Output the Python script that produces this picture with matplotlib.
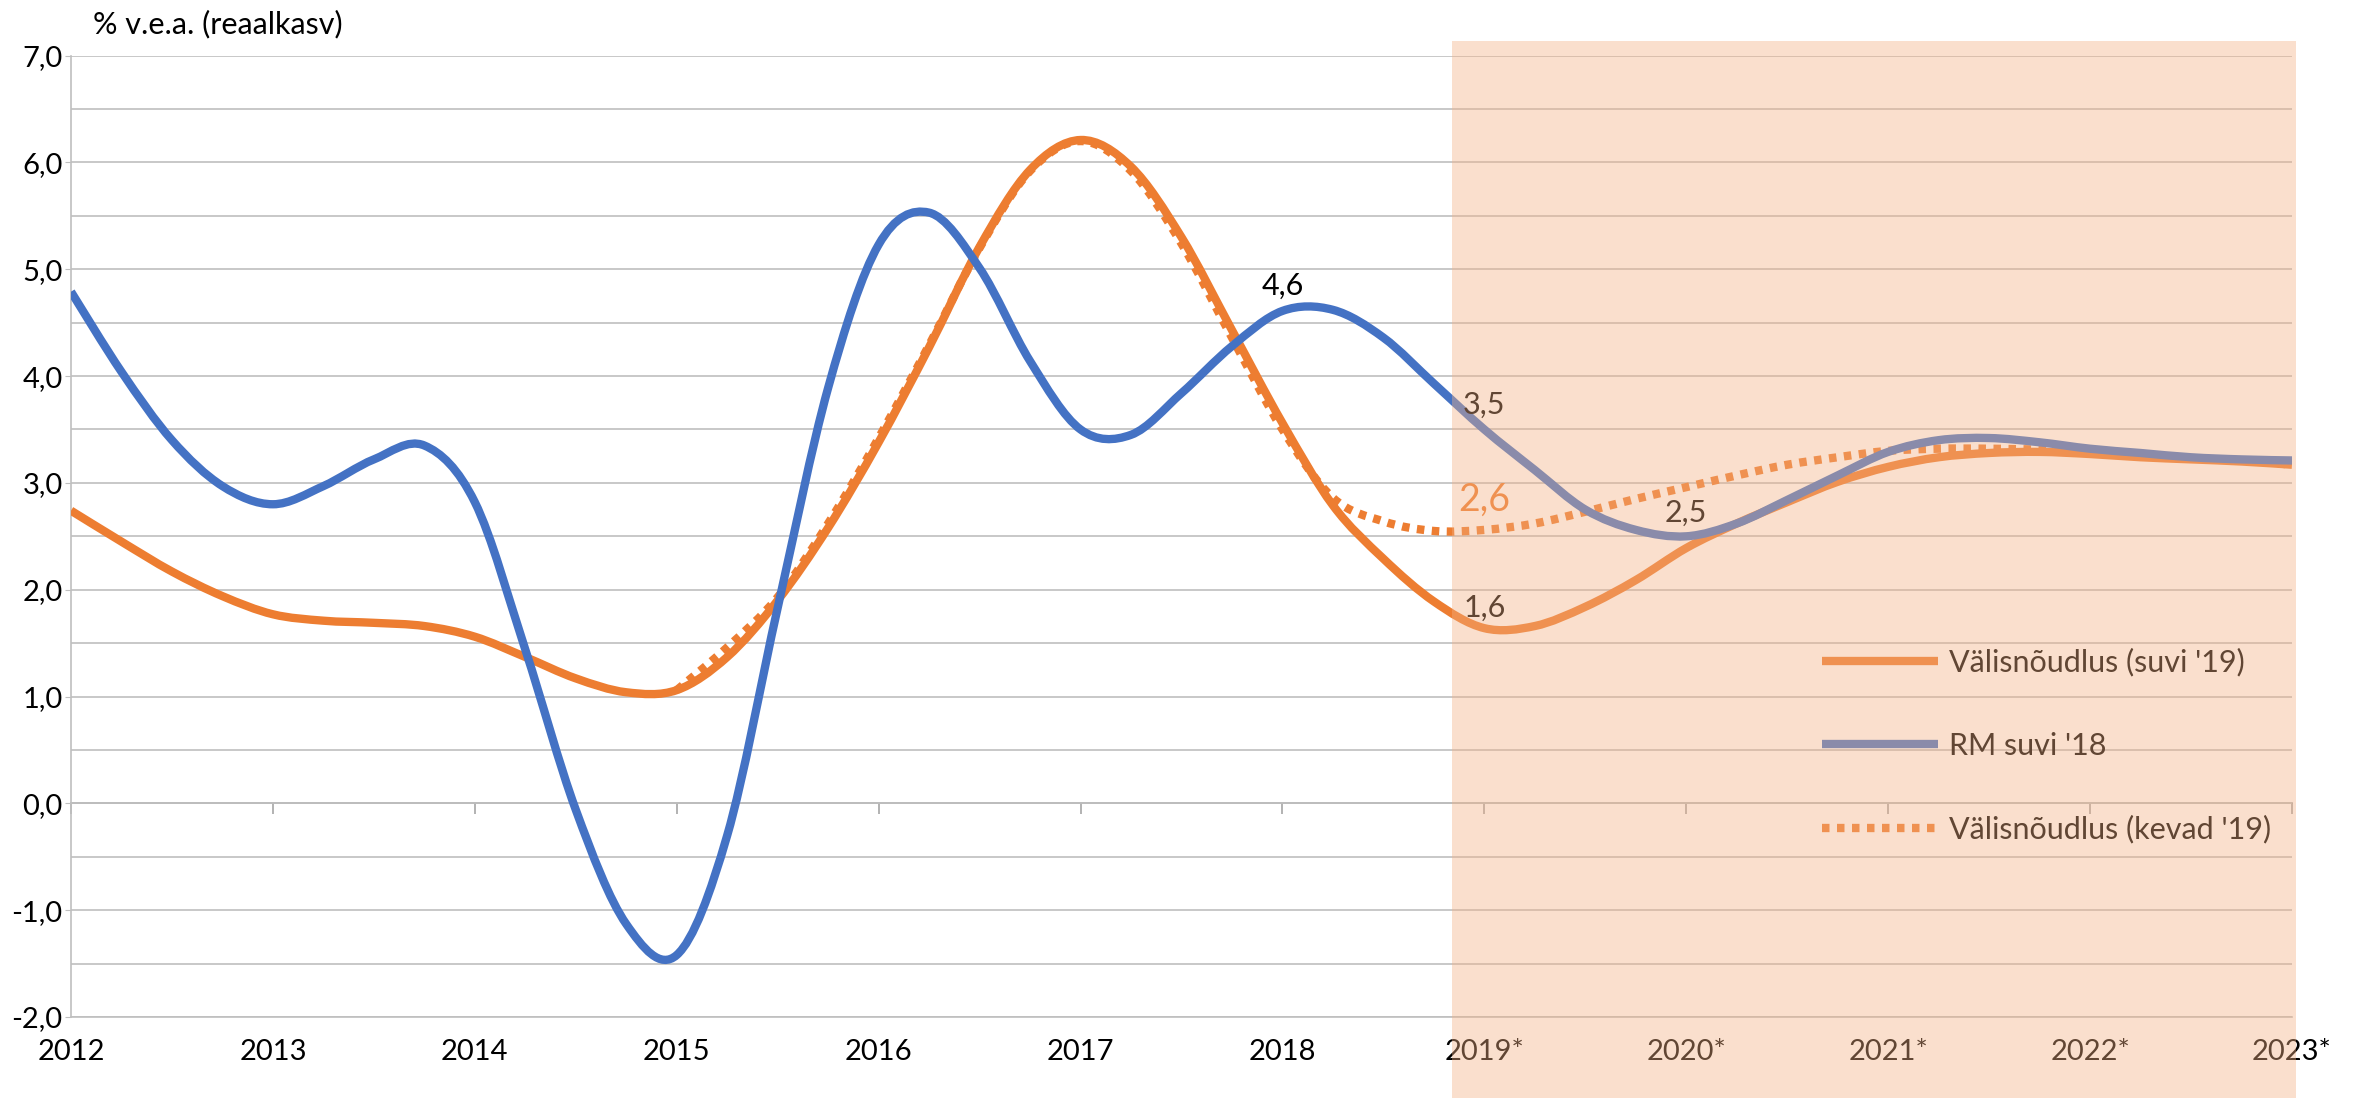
"""Estonian external demand growth chart, summer '19 vs spring '19 vs RM summer '18."""

# --------------------------------------------------
# import necessary modules
# --------------------------------------------------
import matplotlib

matplotlib.use("Agg")
import matplotlib.pyplot as plt
import numpy as np
from matplotlib.lines import Line2D
from matplotlib.patches import PathPatch, Rectangle
from matplotlib.path import Path

plt.rcParams.update({
    "font.family": ["Lato", "DejaVu Sans"],
    "font.size": 21,
})

# --------------------------------------------------
# data (quarterly points)
# --------------------------------------------------
quarters = np.arange(2012.0, 2023.01, 0.25)

rm_suvi_18 = [
    4.79, 4.04, 3.40, 2.97, 2.80, 2.97, 3.22, 3.35,
    2.82, 1.44, -0.06, -1.13, -1.42, -0.30, 1.83, 3.89,
    5.23, 5.53, 5.01, 4.14, 3.50, 3.45, 3.84, 4.28,
    4.61, 4.62, 4.36, 3.93, 3.50, 3.12, 2.75, 2.56,
    2.50, 2.62, 2.84, 3.07, 3.29, 3.40, 3.42, 3.38,
    3.32, 3.28, 3.24, 3.22, 3.21,
]

valisnoudlus_suvi_19 = [
    2.74, 2.45, 2.17, 1.94, 1.77, 1.71, 1.69, 1.66,
    1.56, 1.37, 1.17, 1.04, 1.06, 1.37, 1.90, 2.58,
    3.38, 4.27, 5.21, 5.93, 6.21, 5.96, 5.30, 4.43,
    3.56, 2.79, 2.29, 1.89, 1.64, 1.66, 1.84, 2.09,
    2.39, 2.62, 2.82, 3.01, 3.15, 3.24, 3.28, 3.29,
    3.27, 3.24, 3.22, 3.20, 3.17,
]

# spring forecast only starts in 2015
kevad_start = 12
valisnoudlus_kevad_19 = [
    1.06, 1.46, 1.93, 2.62, 3.42, 4.29, 5.20, 5.92,
    6.20, 5.92, 5.24, 4.36, 3.50, 2.86, 2.64, 2.55,
    2.56, 2.62, 2.73, 2.85, 2.96, 3.07, 3.17, 3.24,
    3.30, 3.32, 3.32, 3.31, 3.28, 3.25, 3.23, 3.21,
    3.17,
]

years = list(range(2012, 2024))
year_labels = ["2012", "2013", "2014", "2015", "2016", "2017", "2018",
               "2019*", "2020*", "2021*", "2022*", "2023*"]
y_ticks = list(range(-2, 8))
y_ticklabels = [f"{v:.1f}".replace(".", ",") for v in y_ticks]

series_names = ["Välisnõudlus (suvi '19)", "RM suvi '18", "Välisnõudlus (kevad '19)"]

# data labels: (series, year, offset in points, colour, size)
point_labels = [
    ("rm", 2018, 18, "black", 22),
    ("rm", 2019, 18, "black", 22),
    ("rm", 2020, 17, "black", 22),
    ("suvi", 2019, 15, "black", 22),
    ("kevad", 2019, 22, "#ED7D31", 27),
]

BLUE = "#4472C4"
ORANGE = "#ED7D31"
GRID = "#BFBFBF"


# --------------------------------------------------
# smoothed line like the spreadsheet "smooth line" option
# --------------------------------------------------
def smooth_path(x, y):
    pts = np.column_stack([x, y])
    ext = np.vstack([pts[0], pts, pts[-1]])
    verts = [pts[0]]
    codes = [Path.MOVETO]
    for i in range(len(pts) - 1):
        p0, p1, p2, p3 = ext[i], ext[i + 1], ext[i + 2], ext[i + 3]
        verts += [p1 + (p2 - p0) / 6.0, p2 - (p3 - p1) / 6.0, p2]
        codes += [Path.CURVE4] * 3
    return Path(verts, codes)


# --------------------------------------------------
# figure
# --------------------------------------------------
fig = plt.figure(figsize=(23.57, 10.98), dpi=100)
ax = fig.add_axes([0.03012, 0.07377, 0.94230, 0.87559])

LW = 6.0
dots = (0, (0.9, 0.9))

series = {
    "suvi": (quarters, valisnoudlus_suvi_19),
    "rm": (quarters, rm_suvi_18),
    "kevad": (quarters[kevad_start:], valisnoudlus_kevad_19),
}

ax.add_patch(PathPatch(smooth_path(*series["kevad"]), fill=False, edgecolor=ORANGE,
                       lw=LW, linestyle=dots, capstyle="butt", zorder=3))
ax.add_patch(PathPatch(smooth_path(*series["suvi"]), fill=False, edgecolor=ORANGE,
                       lw=LW, capstyle="butt", joinstyle="round", zorder=4))
ax.add_patch(PathPatch(smooth_path(*series["rm"]), fill=False, edgecolor=BLUE,
                       lw=LW, capstyle="butt", joinstyle="round", zorder=5))

# data labels
for key, yr, off, col, size in point_labels:
    xs, ys = series[key]
    val = ys[list(xs).index(float(yr))]
    ax.annotate(f"{val:.1f}".replace(".", ","), xy=(yr, val), xytext=(0, off),
                textcoords="offset points", ha="center", va="center",
                color=col, fontsize=size, zorder=6)

# axes
ax.set_xlim(2012, 2023)
ax.set_ylim(-2, 7)
ax.set_xticks(years)
ax.set_xticklabels(year_labels)
ax.set_yticks(y_ticks)
ax.set_yticklabels(y_ticklabels)
ax.set_yticks(np.arange(-1.5, 7, 1.0), minor=True)
ax.grid(True, axis="y", which="both", color=GRID, lw=1.2, zorder=0)
ax.set_axisbelow(True)
ax.tick_params(axis="x", length=0, pad=16, labelsize=21)
ax.tick_params(axis="y", which="major", length=4, color=GRID, pad=2, labelsize=21)
ax.tick_params(axis="y", which="minor", length=0)
for side in ("top", "right"):
    ax.spines[side].set_visible(False)
for side in ("left", "bottom"):
    ax.spines[side].set_color(GRID)
    ax.spines[side].set_linewidth(1.2)

# category axis crossing at zero, with its tick marks
sec = ax.secondary_xaxis(2.0 / 9.0)
sec.set_xticks(years)
sec.set_xticklabels([])
sec.xaxis.set_ticks_position("bottom")
sec.tick_params(axis="x", direction="out", length=8, color="#A6A6A6", width=1.2)
for side in sec.spines:
    sec.spines[side].set_visible(side == "bottom")
sec.spines["bottom"].set_color("#A6A6A6")
sec.spines["bottom"].set_linewidth(1.2)

# legend
handles = [
    Line2D([], [], color=ORANGE, lw=LW, solid_capstyle="butt"),
    Line2D([], [], color=BLUE, lw=LW, solid_capstyle="butt"),
    Line2D([], [], color=ORANGE, lw=LW, linestyle=dots, dash_capstyle="butt"),
]
ax.legend(handles, series_names, loc="upper left",
          bbox_to_anchor=(1822 / 2357, 1 - 648 / 1098), bbox_transform=fig.transFigure,
          frameon=False, fontsize=22, handlelength=3.8, handletextpad=0.35,
          labelspacing=1.8, borderpad=0, borderaxespad=0)

# unit label
fig.text(93 / 2357, 1 - 24 / 1098, "% v.e.a. (reaalkasv)", ha="left", va="center",
         fontsize=22)

# forecast shading drawn over everything
fig.add_artist(Rectangle((1452 / 2357, 0), (2296 - 1452) / 2357, 1 - 40.6 / 1098,
                         transform=fig.transFigure, facecolor="#F4B183", alpha=0.4,
                         edgecolor="none", zorder=20))

fig.savefig("out.png", dpi=100)
plt.close(fig)
